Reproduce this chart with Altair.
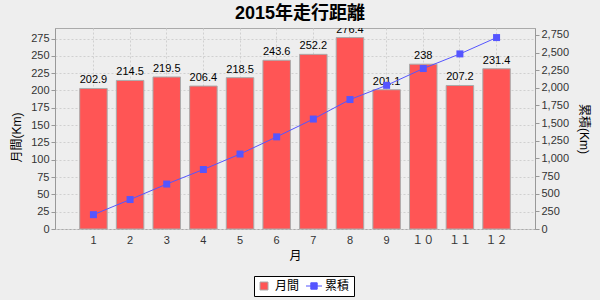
import altair as alt
import pandas as pd

months = ["1", "2", "3", "4", "5", "6", "7", "8", "9", "１０", "１１", "１２"]
monthly = [202.9, 214.5, 219.5, 206.4, 218.5, 243.6, 252.2, 276.4, 201.1, 238.0, 207.2, 231.4]
cumulative = [202.9, 417.4, 636.9, 843.3, 1061.8, 1305.4, 1557.6, 1834.0, 2035.1, 2273.1, 2480.3, 2711.7]
series_names = ["月間", "累積"]
left_ticks = [0, 25, 50, 75, 100, 125, 150, 175, 200, 225, 250, 275]
right_ticks = [0, 250, 500, 750, 1000, 1250, 1500, 1750, 2000, 2250, 2500, 2750]

df = pd.DataFrame({"month": months, "monthly": monthly, "cumulative": cumulative})
legend_df = pd.DataFrame({"series": series_names})

FONT = "Liberation Sans, Noto Sans CJK JP"
RED = "#FF5555"
BLUE = "#5555FF"

x_axis = alt.Axis(
    title="月", ticks=False, labelAngle=0, labelPadding=5, titlePadding=5,
    grid=True, bandPosition=0.5, domain=False, labelOverlap=False,
)
x_scale = alt.Scale(domain=months, paddingInner=0.25, paddingOuter=0.674)


def xe():
    return alt.X("month:N", sort=None, scale=x_scale, axis=x_axis)


left_axis = alt.Axis(
    title="月間(Km)", values=left_ticks, grid=True, tickSize=4, labelPadding=2,
    titlePadding=7, titleY=109, titleAlign="center", labelOverlap=False,
)
left_scale = alt.Scale(domain=[0, 290.22], nice=False)

right_axis = alt.Axis(
    title="累積(Km)", orient="right", values=right_ticks, format=",d", grid=False,
    tickSize=4, labelPadding=2, titlePadding=8, labelOverlap=False,
)
right_scale = alt.Scale(domain=[0, 2847.3], nice=False)

bars = alt.Chart(df).mark_bar(fill=RED, stroke="#AAAAAA", strokeWidth=1).encode(
    x=xe(), y=alt.Y("monthly:Q", scale=left_scale, axis=left_axis)
)

labels = alt.Chart(df).mark_text(
    baseline="bottom", dy=-3, fontSize=11, font=FONT, color="#000000", clip=True
).encode(
    x=xe(),
    y=alt.Y("monthly:Q", scale=left_scale, axis=left_axis),
    text=alt.Text("monthly:Q"),
)

line = alt.Chart(df).mark_line(color=BLUE, strokeWidth=1).encode(
    x=xe(), y=alt.Y("cumulative:Q", scale=right_scale, axis=right_axis)
)
pts = alt.Chart(df).mark_point(
    shape="square", filled=True, fill=BLUE, size=49, opacity=1, strokeWidth=0
).encode(x=xe(), y=alt.Y("cumulative:Q", scale=right_scale, axis=right_axis))

legend_symbol_line = "M-2,0L2,0M-0.8,-0.8L0.8,-0.8L0.8,0.8L-0.8,0.8Z"
leg = alt.Legend(
    title=None, orient="none", legendX=199, legendY=248, direction="horizontal",
    fillColor="#FFFFFF", strokeColor="#000000", padding=4,
    symbolSize=64, symbolStrokeWidth=1, labelOffset=5, columnPadding=4,
    labelFontSize=12, labelFont=FONT, labelColor="#000000",
)
legend_layer = alt.Chart(legend_df).transform_filter(
    alt.datum.series == "none"
).mark_point(filled=True, opacity=1).encode(
    fill=alt.Fill("series:N", scale=alt.Scale(domain=series_names, range=[RED, BLUE]), legend=leg),
    stroke=alt.Stroke("series:N", scale=alt.Scale(domain=series_names, range=["#AAAAAA", BLUE]), legend=leg),
    shape=alt.Shape("series:N", scale=alt.Scale(domain=series_names, range=["square", legend_symbol_line]), legend=leg),
)

left = alt.layer(bars, labels)
right = alt.layer(line, pts)

chart = alt.layer(left, right, legend_layer).resolve_scale(y="independent").properties(
    width=480,
    height=201,
    autosize=alt.AutoSizeParams(type="none"),
    padding={"left": 55, "top": 28, "right": 65, "bottom": 71},
    background="#EEEEEE",
    title=alt.Title(
        "2015年走行距離", fontSize=18, font=FONT, fontWeight="bold", color="#000000",
        anchor="middle", baseline="alphabetic", offset=9, dx=5, dy=18, frame="group",
    ),
).configure_view(
    fill="#FFFFFF", stroke="#AAAAAA", strokeWidth=1
).configure_axis(
    labelFont=FONT, labelFontSize=11, labelColor="#333333",
    titleFont=FONT, titleFontSize=12, titleFontWeight="normal", titleColor="#000000",
    domainColor="#999999", tickColor="#999999",
    gridColor="#D0D0D0", gridDash=[2, 2], gridWidth=1,
)

chart.save("out.html", embed_options={"renderer": "svg", "actions": False})
